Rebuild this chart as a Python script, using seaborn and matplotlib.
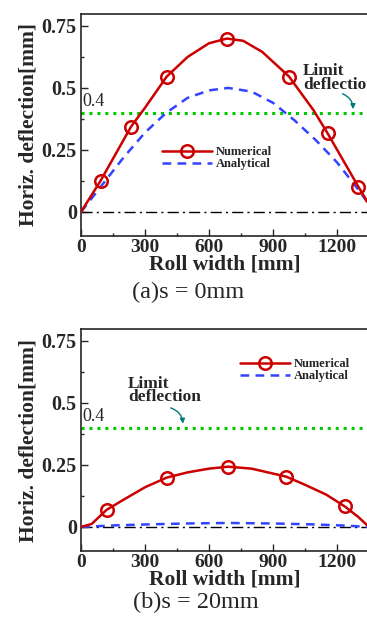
import numpy as np
import pandas as pd
import seaborn as sns
import matplotlib.pyplot as plt
from matplotlib.patches import FancyArrowPatch

# (a) s = 0mm
num_x_a = [0, 92, 234, 300, 402, 500, 600, 684, 760, 850, 975, 1090, 1156, 1300, 1350]
num_y_a = [0, 0.126, 0.343, 0.42, 0.546, 0.625, 0.68, 0.699, 0.69, 0.645, 0.546, 0.41, 0.317, 0.102, 0.03]
mark_a = [1, 2, 4, 7, 10, 12, 13]
ana_x_a = [0, 100, 200, 300, 400, 500, 600, 690, 800, 900, 1000, 1100, 1200, 1300, 1350]
ana_y_a = [0, 0.11, 0.22, 0.32, 0.40, 0.46, 0.49, 0.50, 0.485, 0.44, 0.37, 0.29, 0.20, 0.09, 0.03]

# (b) s = 20mm
num_x_b = [0, 50, 120, 200, 300, 402, 500, 600, 690, 800, 961, 1050, 1150, 1236, 1300, 1350]
num_y_b = [0, 0.012, 0.069, 0.11, 0.16, 0.199, 0.22, 0.235, 0.243, 0.235, 0.203, 0.17, 0.13, 0.083, 0.04, 0.0]
mark_b = [2, 5, 8, 10, 13]
ana_x_b = [0, 150, 300, 500, 690, 900, 1100, 1250, 1350]
ana_y_b = [0, 0.006, 0.01, 0.014, 0.016, 0.014, 0.01, 0.005, 0]

limit = 0.4
yticks = [0, 0.25, 0.5, 0.75]
ytick_labels = ['0', '0.25', '0.5', '0.75']
xticks = [0, 300, 600, 900, 1200]

sns.set_style('ticks')
plt.rcParams['font.family'] = ['Liberation Serif', 'DejaVu Serif']
plt.rcParams['axes.linewidth'] = 1.2

fig = plt.figure(figsize=(3.67, 6.17), dpi=100)
ax_a = fig.add_axes([81/367, 1-236/617, 288/367, 222/617])
ax_b = fig.add_axes([81/367, 1-551/617, 288/367, 222/617])

red = '#cc0000'
blue = '#3344ff'
green = '#00cc00'
teal = '#007a7a'


def draw(ax, nx, ny, marks, axx, ay):
    df_n = pd.DataFrame({'x': nx, 'y': ny})
    df_a = pd.DataFrame({'x': axx, 'y': ay})
    ax.axhline(0, color='black', lw=1.0, ls=(0, (8, 3, 1.5, 3)), zorder=1)
    ax.axhline(limit, color=green, lw=2.2, ls=(0, (1, 1.6)), zorder=1)
    sns.lineplot(data=df_a, x='x', y='y', ax=ax, color=blue, lw=1.8,
                 ls=(0, (3.5, 2.5)), label='Analytical', zorder=2)
    sns.lineplot(data=df_n, x='x', y='y', ax=ax, color=red, lw=1.8,
                 marker='o', markevery=marks, ms=9, mfc='none', mec=red,
                 mew=1.8, label='Numerical', zorder=3)
    ax.set_xlim(0, 1350)
    ax.set_ylim(-0.097, 0.798)
    ax.set_xticks(xticks)
    ax.set_xticks(np.arange(150, 1350, 300), minor=True)
    ax.set_yticks(yticks)
    ax.set_yticklabels(ytick_labels)
    ax.set_yticks([0.125, 0.375, 0.625], minor=True)
    ax.tick_params(direction='in', length=5, width=1, labelsize=14.5, pad=3)
    ax.tick_params(axis='x', labelsize=14, pad=2)
    ax.tick_params(which='minor', direction='in', length=2.5, width=1)
    for lab in ax.get_xticklabels() + ax.get_yticklabels():
        lab.set_fontweight('bold')
    for s in ax.spines.values():
        s.set_visible(True)
    ax.set_xlabel('Roll width [mm]', fontsize=15.5, fontweight='bold', labelpad=-1)
    ax.set_ylabel('Horiz. deflection[mm]', fontsize=15.5, fontweight='bold', labelpad=2)
    ax.text(8, limit + 0.012, '0.4', fontsize=13, va='bottom', ha='left')
    h, l = ax.get_legend_handles_labels()
    return h[::-1], l[::-1]


leg_kw = dict(loc='upper left', frameon=False, handlelength=4.0, handletextpad=0.3,
              labelspacing=0.0, borderpad=0, borderaxespad=0,
              prop={'size': 9, 'weight': 'bold'})

h, l = draw(ax_a, num_x_a, num_y_a, mark_a, ana_x_a, ana_y_a)
ax_a.legend(h, l, bbox_to_anchor=(0.281, 0.405), **leg_kw)
ax_a.text(1040, 0.54, 'Limit\ndeflection', fontsize=12.5, fontweight='bold',
          ha='left', va='center', linespacing=0.78)
ax_a.add_patch(FancyArrowPatch((1214, 0.48), (1275, 0.403),
                               connectionstyle='arc3,rad=-0.4', arrowstyle='-|>',
                               mutation_scale=7, color=teal, lw=1.0))

h, l = draw(ax_b, num_x_b, num_y_b, mark_b, ana_x_b, ana_y_b)
ax_b.legend(h, l, bbox_to_anchor=(0.552, 0.868), **leg_kw)
ax_b.text(220, 0.549, 'Limit\ndeflection', fontsize=12.5, fontweight='bold',
          ha='left', va='center', linespacing=0.78)
ax_b.add_patch(FancyArrowPatch((408, 0.483), (478, 0.405),
                               connectionstyle='arc3,rad=-0.4', arrowstyle='-|>',
                               mutation_scale=7, color=teal, lw=1.0))

fig.text(188/367, 1-292/617, '(a)s = 0mm', fontsize=17.5, ha='center', va='center')
fig.text(196/367, 1-602/617, '(b)s = 20mm', fontsize=17.5, ha='center', va='center')

fig.savefig('out.png', dpi=100)
